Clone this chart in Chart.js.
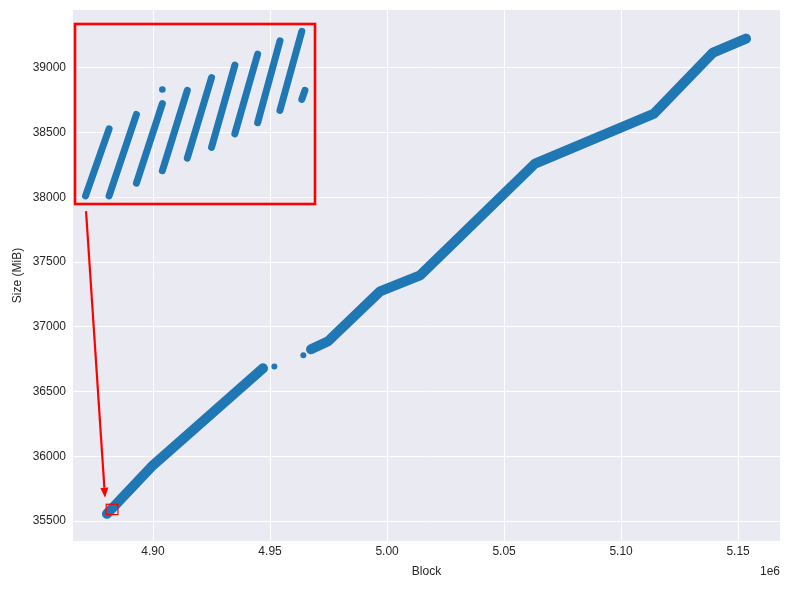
<!DOCTYPE html>
<html><head><meta charset="utf-8">
<script src="https://cdn.jsdelivr.net/npm/chart.js@4.4.0/dist/chart.umd.min.js"></script>
<style>
html,body{margin:0;padding:0;background:#fff;}
#wrap{position:relative;width:789px;height:589px;}
#main{position:absolute;left:0;top:0;}
#inset{position:absolute;left:70px;top:19px;}
</style></head><body>
<div id="wrap"><canvas id="main" width="789" height="589"></canvas><canvas id="inset" width="250" height="190"></canvas></div>
<script>
// ---- data ----
// main trace (block number vs size in MiB); null size = gap in the data
const mainBlocks = [4880300, 4900000, 4947000, 4957000, 4967500, 4974800, 4997000, 5014100, 5063250, 5114100, 5139300, 5153400];
const mainSizes  = [35556,   35932,   36680,   null,    36827,   36889,   37275,   37398,   38262,   38648,   39119,   39227];
// isolated points
const outlierBlocks = [4951840, 4964230];
const outlierSizes  = [36694, 36781];
// zoomed detail (inset): sawtooth runs
const runStartBlocks = [4880220, 4880710, 4881280, 4881820, 4882340, 4882845, 4883330, 4883805, 4884270, 4884725];
const runStartSizes  = [35553.6, 35553.6, 35559.3, 35564.8, 35570.4, 35575.2, 35581.2, 35586.1, 35591.6, 35596.5];
const runEndBlocks   = [4880710, 4881280, 4881820, 4882340, 4882845, 4883330, 4883805, 4884270, 4884725, 4884790];
const runEndSizes    = [35583.4, 35589.8, 35594.6, 35600.5, 35606.2, 35611.7, 35616.6, 35622.5, 35626.7, 35600.5];
const insetDotBlocks = [4881820];
const insetDotSizes  = [35600.9];
// inset window (data units)
const insetBlockRange = [4880000, 4885000];
const insetSizeRange  = [35550, 35630];
// annotation arrow (data units)
const arrowFrom = [4871370, 37894];
const arrowTo   = [4879490, 35680];
// ticks
const xTicks = [4900000, 4950000, 5000000, 5050000, 5100000, 5150000];
const yTicks = [35500, 36000, 36500, 37000, 37500, 38000, 38500, 39000];

const BLUE = '#1f77b4';
const TXT = '#262626';
const FAM = '"Liberation Sans", Arial, sans-serif';
const font = {family: FAM, size: 12};

const bgPlugin = {
  id: 'bg',
  beforeDraw(c) {
    const a = c.chartArea, g = c.ctx;
    g.save(); g.fillStyle = '#EAEAF2';
    g.fillRect(a.left, a.top, a.right - a.left, a.bottom - a.top);
    g.restore();
  }
};
const annotPlugin = {
  id: 'annot',
  afterDatasetsDraw(c) {
    const g = c.ctx, sx = c.scales.x, sy = c.scales.y;
    g.save();
    // zoom rectangle
    const x0 = sx.getPixelForValue(insetBlockRange[0]), x1 = sx.getPixelForValue(insetBlockRange[1]);
    const y0 = sy.getPixelForValue(insetSizeRange[1]), y1 = sy.getPixelForValue(insetSizeRange[0]);
    g.strokeStyle = '#ff0000'; g.lineWidth = 1.2;
    g.strokeRect(x0, y0, x1 - x0, y1 - y0);
    // arrow
    const ax = sx.getPixelForValue(arrowFrom[0]), ay = sy.getPixelForValue(arrowFrom[1]);
    const bx = sx.getPixelForValue(arrowTo[0]), by = sy.getPixelForValue(arrowTo[1]);
    const ang = Math.atan2(by - ay, bx - ax), L = 10, W = 4;
    const hx = bx - L * Math.cos(ang), hy = by - L * Math.sin(ang);
    g.lineWidth = 2.2; g.lineCap = 'butt';
    g.beginPath(); g.moveTo(ax, ay); g.lineTo(hx, hy); g.stroke();
    g.fillStyle = '#ff0000';
    g.beginPath();
    g.moveTo(bx, by);
    g.lineTo(hx + W * Math.sin(ang), hy - W * Math.cos(ang));
    g.lineTo(hx - W * Math.sin(ang), hy + W * Math.cos(ang));
    g.closePath(); g.fill();
    g.restore();
  },
  afterDraw(c) {
    const g = c.ctx, a = c.chartArea;
    g.save(); g.fillStyle = TXT; g.font = '12px ' + FAM;
    g.textAlign = 'right'; g.textBaseline = 'middle';
    g.fillText('1e6', a.right, 572);
    g.restore();
  }
};

new Chart(document.getElementById('main'), {
  type: 'scatter',
  data: { datasets: [
    { data: mainBlocks.map((x, i) => ({x: x, y: mainSizes[i]})), showLine: true, borderColor: BLUE,
      backgroundColor: BLUE, borderWidth: 10, borderCapStyle: 'round', borderJoinStyle: 'round',
      pointRadius: 0, spanGaps: false, tension: 0 },
    { data: outlierBlocks.map((x, i) => ({x: x, y: outlierSizes[i]})), showLine: false,
      pointRadius: 3, backgroundColor: BLUE, borderWidth: 0 }
  ]},
  options: {
    responsive: false, devicePixelRatio: 1, animation: false,
    layout: {padding: {left: 0, top: 10, right: 9, bottom: 0}},
    plugins: {legend: {display: false}, tooltip: {enabled: false}},
    scales: {
      x: {
        type: 'linear', min: 4865800, max: 5167900,
        afterBuildTicks: s => { s.ticks = xTicks.map(v => ({value: v})); },
        afterFit: s => { s.height = 48; s.paddingLeft = 0; s.paddingRight = 0; },
        ticks: {callback: v => (v / 1e6).toFixed(2), padding: 3, color: TXT, font: font, maxRotation: 0, autoSkip: false},
        grid: {color: '#ffffff', lineWidth: 1, drawTicks: false},
        border: {display: false},
        title: {display: true, text: 'Block', color: TXT, font: font, padding: {top: 0, bottom: 10}}
      },
      y: {
        type: 'linear', min: 35346, max: 39448,
        afterBuildTicks: s => { s.ticks = yTicks.map(v => ({value: v})); },
        afterFit: s => { s.width = 73; s.paddingTop = 0; s.paddingBottom = 0; },
        ticks: {callback: v => String(v), padding: 7, color: TXT, font: font, autoSkip: false},
        grid: {color: '#ffffff', lineWidth: 1, drawTicks: false},
        border: {display: false},
        title: {display: true, text: 'Size (MiB)', color: TXT, font: font, padding: {top: 10, bottom: 0}}
      }
    }
  },
  plugins: [bgPlugin, annotPlugin]
});

// inset
const runData = [];
for (let i = 0; i < runStartBlocks.length; i++) {
  runData.push({x: runStartBlocks[i], y: runStartSizes[i]});
  runData.push({x: runEndBlocks[i], y: runEndSizes[i]});
  runData.push({x: runEndBlocks[i], y: null});
}
const borderPlugin = {
  id: 'insetBorder',
  afterDraw(c) {
    const a = c.chartArea, g = c.ctx;
    g.save(); g.strokeStyle = '#ff0000'; g.lineWidth = 2.6;
    g.strokeRect(a.left, a.top, a.right - a.left, a.bottom - a.top);
    g.restore();
  }
};
new Chart(document.getElementById('inset'), {
  type: 'scatter',
  data: { datasets: [
    { data: runData, showLine: true, borderColor: BLUE, backgroundColor: BLUE, borderWidth: 7,
      borderCapStyle: 'round', borderJoinStyle: 'round', pointRadius: 0, spanGaps: false, tension: 0 },
    { data: insetDotBlocks.map((x, i) => ({x: x, y: insetDotSizes[i]})), showLine: false,
      pointRadius: 3.3, backgroundColor: BLUE, borderWidth: 0 }
  ]},
  options: {
    responsive: false, devicePixelRatio: 1, animation: false,
    layout: {padding: 5},
    plugins: {legend: {display: false}, tooltip: {enabled: false}},
    scales: {
      x: {type: 'linear', display: false, min: insetBlockRange[0], max: insetBlockRange[1]},
      y: {type: 'linear', display: false, min: insetSizeRange[0], max: insetSizeRange[1]}
    }
  },
  plugins: [borderPlugin]
});
</script>
</body></html>
